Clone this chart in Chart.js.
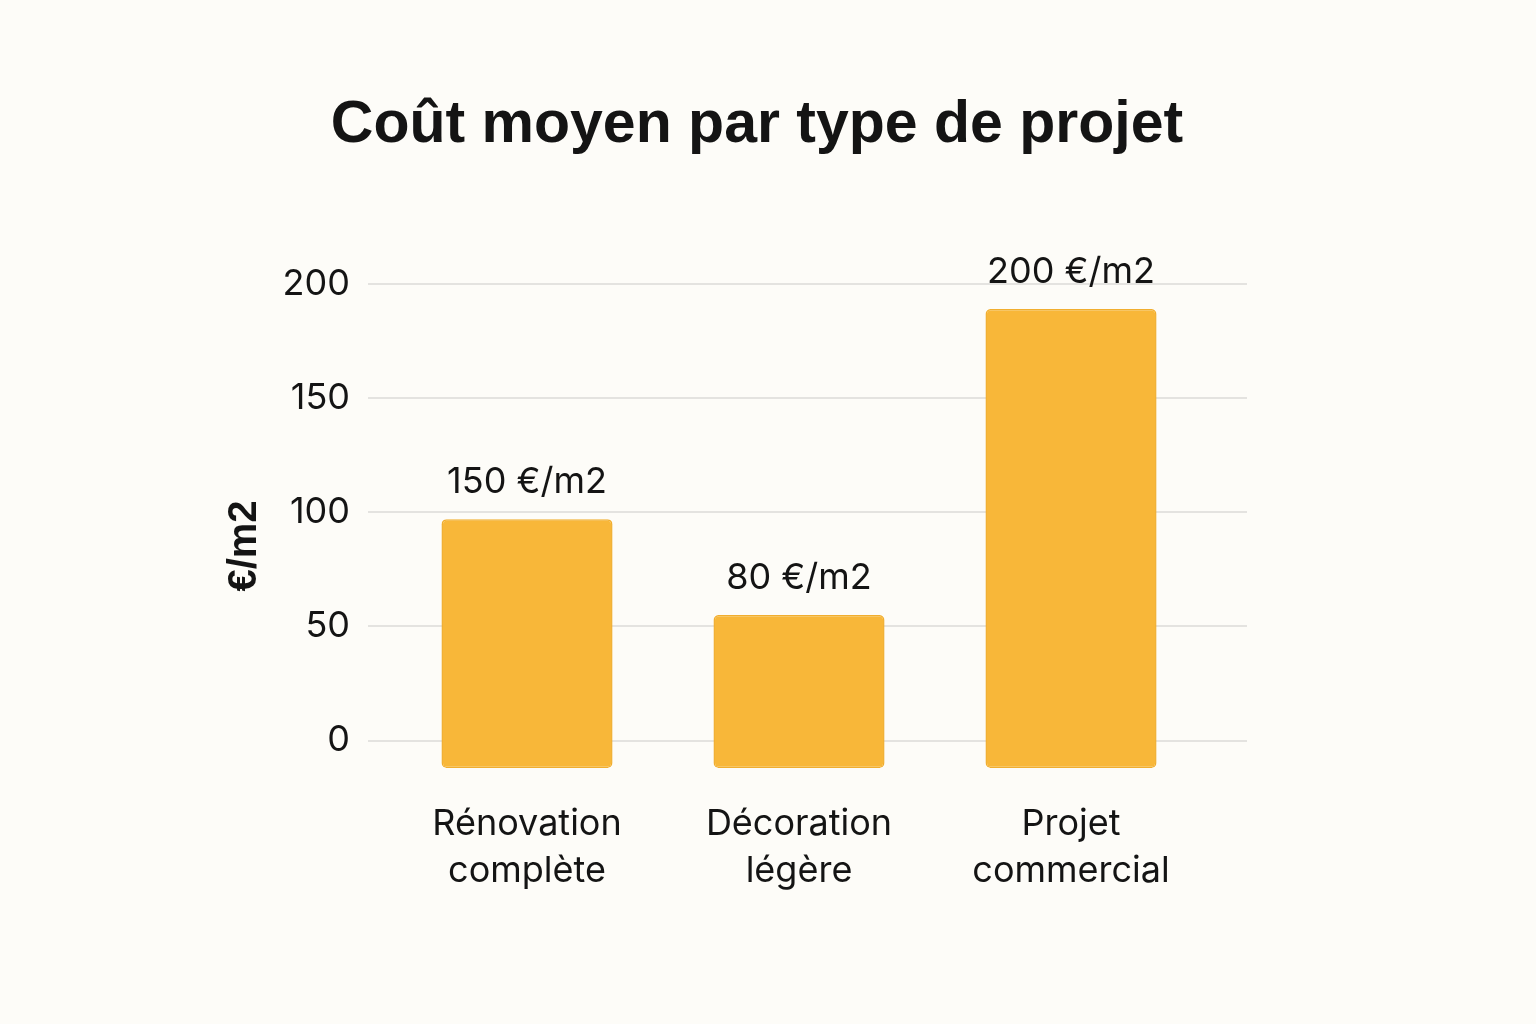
<!DOCTYPE html>
<html lang="fr">
<head>
<meta charset="utf-8">
<title>Coût moyen par type de projet</title>
<script src="https://cdn.jsdelivr.net/npm/chart.js@4.4.1/dist/chart.umd.min.js"></script>
<style>
  html, body { margin: 0; padding: 0; background: #FDFCF8; }
  #wrap { width: 1536px; height: 1024px; }
</style>
</head>
<body>
<div id="wrap"><canvas id="c" width="1536" height="1024"></canvas></div>
<script>
// ---- Data ----
const chartTitle = "Coût moyen par type de projet";
const yAxisTitle = "€/m2";
const categories = ["Rénovation complète", "Décoration légère", "Projet commercial"];
// bar heights as drawn on the axis
const barValues = [97, 55, 189];
// bar bottoms sit slightly below the zero line
const barBase = -12;
// printed value labels above the bars
const labelValues = [150, 80, 200];
const labelUnit = "€/m2";
const yTicks = [0, 50, 100, 150, 200];

const textColor = "#141414";
const barColor = "#F8B739";
const barBorder = "#F1AE2F";
const gridColor = "#E4E3E0";

const bgPlugin = {
  id: "bg",
  beforeDraw(chart) {
    const ctx = chart.ctx;
    ctx.save();
    ctx.fillStyle = "#FDFCF8";
    ctx.fillRect(0, 0, chart.width, chart.height);
    ctx.restore();
  }
};

const textPlugin = {
  id: "texts",
  afterDatasetsDraw(chart) {
    const ctx = chart.ctx;
    const meta = chart.getDatasetMeta(0);
    ctx.save();
    ctx.fillStyle = textColor;
    ctx.font = "36px Inter";
    ctx.textAlign = "center";
    ctx.textBaseline = "alphabetic";
    meta.data.forEach((bar, i) => {
      ctx.fillText(labelValues[i] + " " + labelUnit, bar.x, bar.y - 26);
    });
    // chart title
    ctx.font = "bold 59px 'Liberation Sans', Arial, sans-serif";
    ctx.fillText(chartTitle, 757, 142);
    // y axis title
    ctx.translate(256, 546);
    ctx.rotate(-Math.PI / 2);
    ctx.font = "bold 40px 'Liberation Sans', Arial, sans-serif";
    ctx.fillText(yAxisTitle, 0, 0);
    ctx.restore();
  }
};

new Chart(document.getElementById("c"), {
  type: "bar",
  data: {
    datasets: [{
      data: barValues.map((v, i) => ({ x: i, y: v })),
      base: barBase,
      backgroundColor: barColor,
      borderColor: barBorder,
      borderWidth: 1.5,
      borderRadius: 5,
      borderSkipped: false,
      barPercentage: 1,
      categoryPercentage: 0.629
    }]
  },
  options: {
    responsive: false,
    animation: false,
    devicePixelRatio: 1,
    layout: { padding: { top: 284, right: 289, left: 200, bottom: 0 } },
    plugins: {
      legend: { display: false },
      tooltip: { enabled: false },
      title: { display: false }
    },
    scales: {
      x: {
        type: "linear",
        offset: false,
        min: -0.5846,
        max: 2.647,
        grid: { display: false, offset: false },
        border: { display: false },
        afterBuildTicks(scale) { scale.ticks = categories.map((_, i) => ({ value: i })); },
        afterFit(scale) { scale.height = 256; },
        ticks: {
          autoSkip: false,
          maxRotation: 0,
          padding: 25,
          color: textColor,
          font: { family: "Inter", size: 36, lineHeight: 1.3 },
          callback(v) { return categories[v] ? categories[v].split(" ") : ""; }
        }
      },
      y: {
        min: barBase,
        max: 200,
        afterBuildTicks(scale) { scale.ticks = yTicks.map(v => ({ value: v })); },
        afterFit(scale) { scale.width = 168; },
        grid: { color: gridColor, lineWidth: 2, drawTicks: false },
        border: { display: false },
        ticks: {
          padding: 18,
          color: textColor,
          font: { family: "Inter", size: 36 }
        }
      }
    }
  },
  plugins: [bgPlugin, textPlugin]
});
</script>
</body>
</html>
